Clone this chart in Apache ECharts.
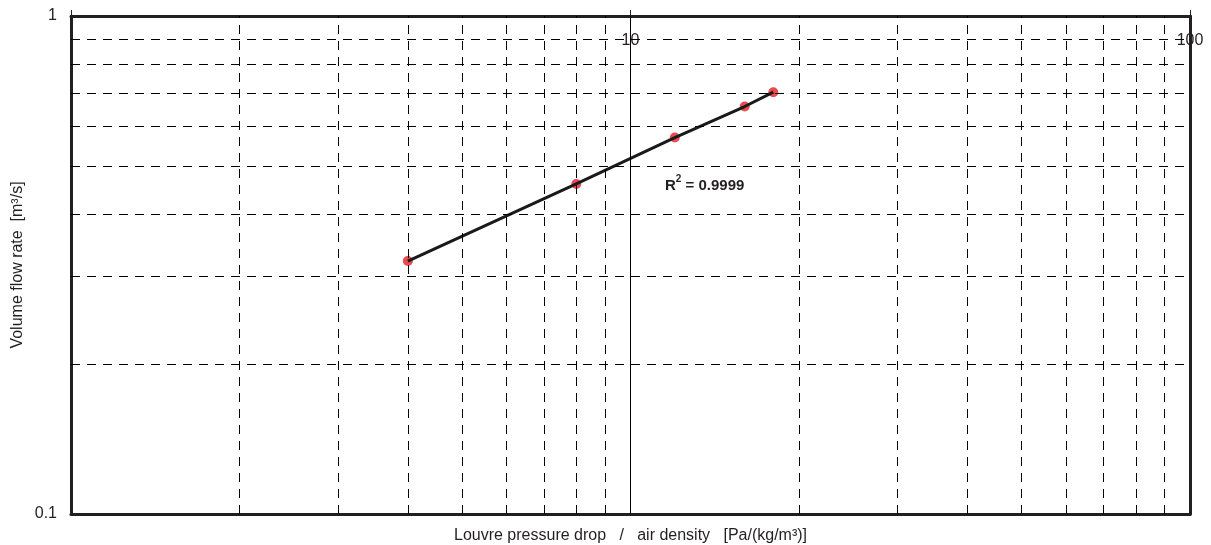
<!DOCTYPE html>
<html>
<head>
<meta charset="utf-8">
<script src="https://cdn.jsdelivr.net/npm/echarts@6/dist/echarts.min.js"></script>
<style>html,body{margin:0;padding:0;background:#fff}#c{width:1211px;height:545px}</style>
</head>
<body>
<div id="c"></div>
<script>
const pressure = [4, 8, 12, 16, 18];
const flow = [0.322, 0.460, 0.570, 0.658, 0.703];
const xMinorGrid = [2, 3, 4, 5, 6, 7, 8, 9, 20, 30, 40, 50, 60, 70, 80, 90];
const yMinorGrid = [0.2, 0.3, 0.4, 0.5, 0.6, 0.7, 0.8, 0.9];
const xMajorGrid = [10];
const xTickLabels = {1: '', 10: '10', 100: '100'};
const yTickLabels = {0.1: '0.1', 1: '1'};
const xTitle = 'Louvre pressure drop   /   air density   [Pa/(kg/m\u00b3)]';
const yTitle = 'Volume flow rate  [m\u00b3/s]';
const r2Text = '0.9999';

const FONT = 'Liberation Sans';
const TXT = '#231f20';
const FRAME = {lineStyle: {color: '#231f20', width: 3}};
const pts = pressure.map((p, i) => [p, flow[i]]);

const chart = echarts.init(document.getElementById('c'));
chart.setOption({
  animation: false,
  textStyle: {fontFamily: FONT},
  grid: {left: 71, right: 21, top: 16, bottom: 31, containLabel: false, outerBoundsMode: 'none'},
  title: {
    left: 660, top: 169,
    text: '{r|R}{s|2}{r| = ' + r2Text + '}',
    textStyle: {
      rich: {
        r: {fontFamily: FONT, fontWeight: 'bold', fontSize: 15, color: TXT, verticalAlign: 'bottom', lineHeight: 19},
        s: {fontFamily: FONT, fontWeight: 'bold', fontSize: 10, color: TXT, verticalAlign: 'top', lineHeight: 19}
      }
    }
  },
  xAxis: [{
    type: 'log', logBase: 10, min: 1, max: 100, position: 'bottom',
    name: xTitle, nameLocation: 'middle', nameGap: 14, nameMoveOverlap: false,
    nameTextStyle: {fontFamily: FONT, fontSize: 16, color: TXT, verticalAlign: 'top'},
    axisLine: FRAME,
    axisTick: {show: true, inside: true, length: 5, lineStyle: {color: '#231f20', width: 1}, customValues: xMinorGrid},
    axisLabel: {show: false},
    splitLine: {show: false}
  }, {
    type: 'log', logBase: 10, min: 1, max: 100, position: 'top',
    axisLine: FRAME,
    axisTick: {show: true, inside: false, length: 6, lineStyle: {color: '#231f20', width: 1}},
    axisLabel: {show: true, inside: true, margin: 17, fontFamily: FONT, fontSize: 16, color: TXT,
      showMinLabel: true, showMaxLabel: true,
      formatter: v => (xTickLabels[Math.round(v)] !== undefined ? xTickLabels[Math.round(v)] : '')},
    splitLine: {show: false}
  }],
  yAxis: [{
    type: 'log', logBase: 10, min: 0.1, max: 1, position: 'left',
    name: yTitle, nameLocation: 'middle', nameGap: 45, nameMoveOverlap: false,
    nameTextStyle: {fontFamily: FONT, fontSize: 16, color: TXT},
    axisLine: FRAME,
    axisTick: {show: false},
    axisLabel: {show: true, margin: 14, fontFamily: FONT, fontSize: 16, color: TXT,
      showMinLabel: true, showMaxLabel: true,
      formatter: v => {const k = Math.abs(v - 1) < 1e-6 ? 1 : (Math.abs(v - 0.1) < 1e-6 ? 0.1 : null); return k === null ? '' : yTickLabels[k];}},
    splitLine: {show: false}
  }, {
    type: 'log', logBase: 10, min: 0.1, max: 1, position: 'right',
    axisLine: FRAME,
    axisTick: {show: false},
    axisLabel: {show: false},
    splitLine: {show: false}
  }],
  series: [{
    type: 'line', data: [], xAxisIndex: 0, yAxisIndex: 0, z: 1, silent: true,
    markLine: {
      silent: true, symbol: 'none', animation: false, label: {show: false},
      lineStyle: {color: '#000', width: 1, type: [9, 7]},
      data: xMinorGrid.map(v => ({xAxis: v})).concat(yMinorGrid.map(v => ({yAxis: v})))
    }
  }, {
    type: 'line', data: [], xAxisIndex: 0, yAxisIndex: 0, z: 1, silent: true,
    markLine: {
      silent: true, symbol: 'none', animation: false, label: {show: false},
      lineStyle: {color: '#000', width: 1, type: 'solid'},
      data: xMajorGrid.map(v => ({xAxis: v}))
    }
  }, {
    type: 'scatter', data: pts, xAxisIndex: 0, yAxisIndex: 0, z: 3,
    symbol: 'circle', symbolSize: 10,
    itemStyle: {color: '#e41e26'}
  }, {
    type: 'line', data: pts, xAxisIndex: 0, yAxisIndex: 0, z: 4,
    symbol: 'none', lineStyle: {color: '#1a1a1a', width: 3}
  }]
});
</script>
</body>
</html>
